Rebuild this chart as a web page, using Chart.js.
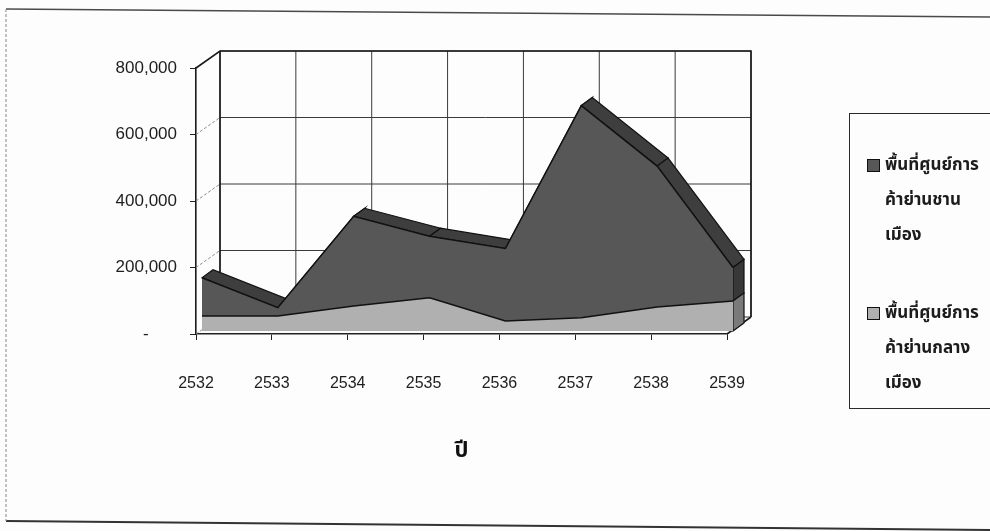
<!DOCTYPE html>
<html>
<head>
<meta charset="utf-8">
<script src="https://cdn.jsdelivr.net/npm/chart.js@4.4.1/dist/chart.umd.min.js"></script>
<style>
  html, body { margin: 0; padding: 0; background: #ffffff; }
  #wrap { position: relative; width: 990px; height: 531px; overflow: hidden; background: #fdfdfd; }
  #chart { position: absolute; left: 0; top: 0; }
  #legend { position: absolute; left: 849px; top: 113px; width: 170px; height: 296px;
            border: 1.5px solid #2a2a2a; box-sizing: border-box; }
  .sw { position: absolute; width: 11px; height: 11px; border: 1px solid #111; }
  .lt { position: absolute; left: 885px; line-height: 35px; font-size: 17px; font-weight: bold;
        color: #1c1c1c; font-family: "Noto Sans Thai", "Loma", "Garuda", "Tahoma", "DejaVu Sans", sans-serif;
        white-space: nowrap; }
</style>
</head>
<body>
<div id="wrap">
  <canvas id="chart" width="990" height="531"></canvas>
  <div id="legend"></div>
</div>
<script>
// Years (Thai Buddhist era)
const years = ['2532', '2533', '2534', '2535', '2536', '2537', '2538', '2539'];

// Retail floor area, central district (bottom layer)
const centralArea = [45000, 45000, 75000, 100000, 30000, 40000, 72000, 90000];
// Retail floor area, suburban district (stacked on top)
const suburbanArea = [115000, 25000, 270000, 185000, 218000, 638000, 424000, 101000];

// Legend text, one entry per line
const centralName = ['พื้นที่ศูนย์การ', 'ค้าย่านกลาง', 'เมือง'];
const suburbanName = ['พื้นที่ศูนย์การ', 'ค้าย่านชาน', 'เมือง'];

const yTicks = [0, 200000, 400000, 600000, 800000];
const xTitle = 'ปี';

// 3-D look: depth of the walls, position and thickness of the area slab
const WALL = { x: 24, y: -17 };
const FACE = { x: 6, y: -3 };
const SLAB = { x: 11, y: -8 };

function line(ctx, x1, y1, x2, y2) {
  ctx.beginPath(); ctx.moveTo(x1, y1); ctx.lineTo(x2, y2); ctx.stroke();
}
function quad(ctx, pts, fill, stroke) {
  ctx.beginPath();
  ctx.moveTo(pts[0][0], pts[0][1]);
  for (let i = 1; i < pts.length; i++) ctx.lineTo(pts[i][0], pts[i][1]);
  ctx.closePath();
  ctx.fillStyle = fill; ctx.fill();
  if (stroke) { ctx.strokeStyle = stroke; ctx.lineWidth = 1.2; ctx.stroke(); }
}

const frame3d = {
  id: 'frame3d',
  beforeDraw(chart) {
    const ctx = chart.ctx;
    ctx.save();
    // outer border of the whole figure
    ctx.strokeStyle = '#4a4a4a'; ctx.lineWidth = 1.5;
    line(ctx, 6, 9, 990, 17);
    ctx.strokeStyle = '#333'; ctx.lineWidth = 2;
    line(ctx, 6, 521, 990, 530);
    ctx.strokeStyle = '#9a9a9a'; ctx.lineWidth = 1.2; ctx.setLineDash([3, 2]);
    line(ctx, 6, 9, 6, 521);
    ctx.restore();
  },
  beforeDatasetsDraw(chart) {
    const ctx = chart.ctx;
    const xs = chart.scales.x, ys = chart.scales.y;
    const { left: L, right: R, top: T, bottom: B } = chart.chartArea;
    ctx.save();
    // back wall grid
    ctx.strokeStyle = '#3a3a3a'; ctx.lineWidth = 1;
    ys.ticks.forEach(t => {
      const y = ys.getPixelForValue(t.value) + WALL.y;
      line(ctx, L + WALL.x, y, R + WALL.x, y);
    });
    years.forEach((_, i) => {
      const x = xs.getPixelForValue(i) + WALL.x;
      line(ctx, x, T + WALL.y, x, B + WALL.y);
    });
    // side wall: diagonals from the front axis to the back wall
    ctx.strokeStyle = '#8a8a8a'; ctx.setLineDash([3, 2]);
    ys.ticks.forEach(t => {
      const y = ys.getPixelForValue(t.value);
      if (t.value !== ys.max) line(ctx, L, y, L + WALL.x, y + WALL.y);
    });
    ctx.setLineDash([]);
    ctx.strokeStyle = '#1a1a1a'; ctx.lineWidth = 1.6;
    ctx.beginPath();
    ctx.moveTo(L, T); ctx.lineTo(L + WALL.x, T + WALL.y);
    ctx.lineTo(R + WALL.x, T + WALL.y); ctx.lineTo(R + WALL.x, B + WALL.y);
    ctx.stroke();
    line(ctx, L + WALL.x, T + WALL.y, L + WALL.x, B + WALL.y);
    line(ctx, R, B, R + WALL.x, B + WALL.y);

    // the area slab sits a little behind the front plane
    ctx.translate(FACE.x, FACE.y);
    const top = chart.getDatasetMeta(1).data;
    const mid = chart.getDatasetMeta(0).data;
    const base = ys.getPixelForValue(0);
    // top face of the slab
    for (let i = 0; i < top.length - 1; i++) {
      const a = top[i], b = top[i + 1];
      quad(ctx, [[a.x, a.y], [b.x, b.y], [b.x + SLAB.x, b.y + SLAB.y], [a.x + SLAB.x, a.y + SLAB.y]], '#3e3e3e', '#111');
    }
    // right end face
    const n = top.length - 1;
    const tx = top[n].x, ty = top[n].y, my = mid[n].y;
    quad(ctx, [[tx, ty], [tx + SLAB.x, ty + SLAB.y], [tx + SLAB.x, my + SLAB.y], [tx, my]], '#383838', '#111');
    quad(ctx, [[tx, my], [tx + SLAB.x, my + SLAB.y], [tx + SLAB.x, base + SLAB.y], [tx, base]], '#7a7a7a', '#111');
  },
  afterDatasetsDraw(chart) {
    chart.ctx.restore();
  }
};

const ctx = document.getElementById('chart').getContext('2d');
const chart = new Chart(ctx, {
  type: 'line',
  data: {
    labels: years,
    datasets: [
      {
        label: centralName.join(''),
        data: centralArea,
        fill: 'origin',
        backgroundColor: '#b0b0b0',
        borderColor: '#111',
        borderWidth: 1.5,
        pointRadius: 0,
        tension: 0,
        clip: false
      },
      {
        label: suburbanName.join(''),
        data: suburbanArea,
        fill: '-1',
        backgroundColor: '#575757',
        borderColor: '#111',
        borderWidth: 1.5,
        pointRadius: 0,
        tension: 0,
        clip: false
      }
    ]
  },
  options: {
    responsive: false,
    animation: false,
    events: [],
    layout: { padding: { top: 68, right: 263, left: 0, bottom: 0 } },
    plugins: { legend: { display: false }, tooltip: { enabled: false } },
    scales: {
      x: {
        type: 'category',
        offset: false,
        grid: { drawOnChartArea: false, drawTicks: true, tickLength: 6, color: '#222', offset: false },
        border: { display: true, color: '#222', width: 1.6 },
        ticks: { color: '#1e1e1e', padding: 34, maxRotation: 0,
                 font: { family: '"Liberation Sans", Arial, sans-serif', size: 16 } },
        title: { display: true, text: xTitle, color: '#111', padding: { top: 0, bottom: 65 },
                 font: { family: '"Noto Sans Thai", "Loma", "Tahoma", "DejaVu Sans", sans-serif', size: 22, weight: 'bold' } },
        afterFit(scale) { scale.height = 197; }
      },
      y: {
        stacked: true,
        min: 0,
        max: 800000,
        afterBuildTicks(scale) { scale.ticks = yTicks.map(v => ({ value: v })); },
        grid: { drawOnChartArea: false, drawTicks: true, tickLength: 6, color: '#222' },
        border: { display: true, color: '#1a1a1a', width: 1.6 },
        ticks: {
          color: '#1e1e1e', padding: 13,
          font: { family: '"Liberation Sans", Arial, sans-serif', size: 17 },
          // accounting style: zero shown as a dash set in from the right edge
          callback: v => (v === 0 ? '-\u2007\u2007\u2007' : v.toLocaleString('en-US'))
        },
        afterFit(scale) { scale.width = 196; }
      }
    }
  },
  plugins: [frame3d]
});

// Legend: suburban first, then central, each wrapped over three lines
const legendEntries = [
  { lines: suburbanName, color: chart.data.datasets[1].backgroundColor, top: 159 },
  { lines: centralName, color: chart.data.datasets[0].backgroundColor, top: 307 }
];
const wrap = document.getElementById('wrap');
legendEntries.forEach(e => {
  const sw = document.createElement('div');
  sw.className = 'sw';
  sw.style.left = '867px';
  sw.style.top = e.top + 'px';
  sw.style.background = e.color;
  wrap.appendChild(sw);
  const tx = document.createElement('div');
  tx.className = 'lt';
  tx.style.top = (e.top + 6 - 17.5) + 'px';
  tx.innerHTML = e.lines.join('<br>');
  wrap.appendChild(tx);
});
</script>
</body>
</html>
